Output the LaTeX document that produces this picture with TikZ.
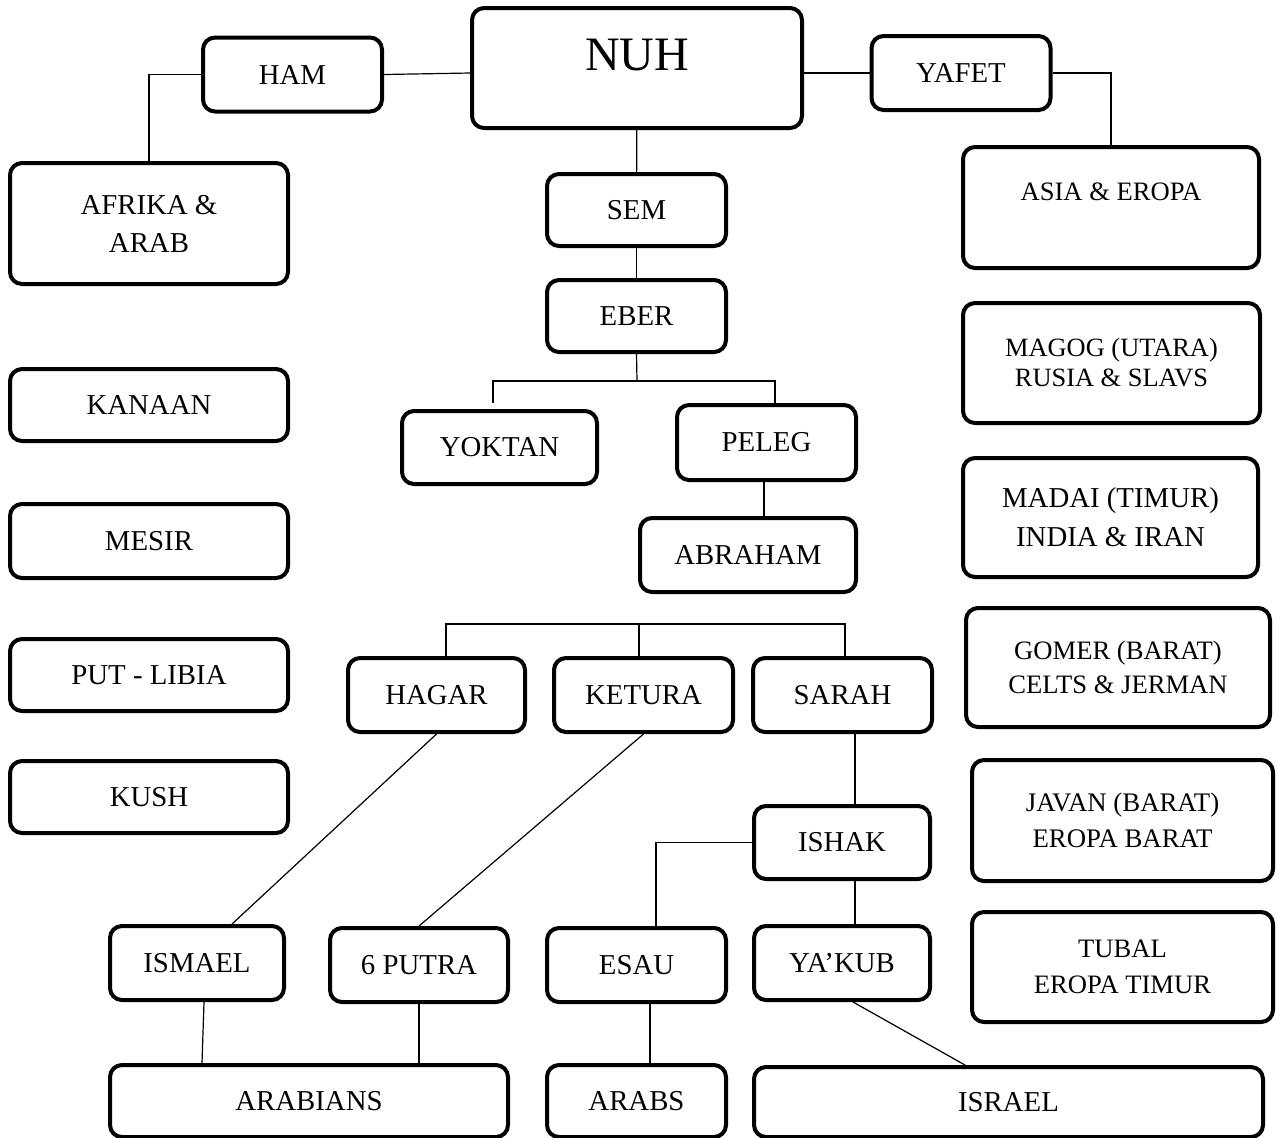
\documentclass[tikz,border=0pt]{standalone}
\usepackage{fontspec}
\setmainfont{Liberation Serif}
\usetikzlibrary{positioning}

\begin{document}
\begin{tikzpicture}[x=0.5pt, y=-0.5pt, line width=0.6pt,
  every node/.style={font=\fontsize{14.4}{19}\selectfont},
  fam/.style={draw, line width=2pt, rounded corners=6pt, align=center, inner sep=0pt, minimum width=89.5pt, minimum height=37pt},
  wide/.style={fam, minimum width=139pt},
  nation/.style={fam, minimum width=150pt, minimum height=60pt, font=\fontsize{13.3}{17}\selectfont}]
  \useasboundingbox (0,0) rectangle (1279,1137);
  % top generation
  \node[fam, minimum width=165pt, minimum height=60pt, text depth=13pt, font=\fontsize{24}{28}\selectfont] (nuh) at (637,68) {NUH};
  \node[fam] (ham) at (292.5,74.5) {HAM};
  \node[fam] (yafet) at (961,73) {YAFET};
  \node[wide, minimum height=60.5pt] (afrika) at (149,223.5) {AFRIKA \&\\ARAB};
  \node[nation, minimum width=148pt, minimum height=60.5pt, text height=8.7pt, text depth=15.5pt] (asia) at (1111,207.5) {ASIA \& EROPA};
  \node[fam, minimum height=36pt] (sem) at (636.5,210) {SEM};
  \node[fam, minimum height=36pt] (eber) at (636.5,316) {EBER};
  % sons of ham
  \node[wide, minimum height=36pt] (kanaan) at (149,405) {KANAAN};
  \node[wide] (mesir) at (149,541) {MESIR};
  \node[wide, minimum height=36pt] (putlibia) at (149,675) {PUT - LIBIA};
  \node[wide, minimum height=36pt] (kush) at (149,797) {KUSH};
  % sons of yafet
  \node[nation, minimum width=148.5pt, font=\fontsize{13.2}{15}\selectfont] (magog) at (1111.5,363) {MAGOG (UTARA)\\RUSIA \& SLAVS};
  \node[nation, minimum width=147.5pt, minimum height=59.5pt, font=\fontsize{14.4}{19.5}\selectfont] (madai) at (1110.5,517.5) {MADAI (TIMUR)\\INDIA \& IRAN};
  \node[nation, minimum width=152pt, minimum height=59.5pt] (gomer) at (1118,667.5) {GOMER (BARAT)\\CELTS \& JERMAN};
  \node[nation, minimum width=150.5pt, minimum height=60.5pt, font=\fontsize{13.4}{18}\selectfont] (javan) at (1122.5,820.5) {JAVAN (BARAT)\\EROPA BARAT};
  \node[nation, minimum width=150.5pt, minimum height=55pt, font=\fontsize{13.3}{18}\selectfont] (tubal) at (1122.5,967) {TUBAL\\EROPA TIMUR};
  % line of sem
  \node[fam, minimum width=97.5pt, minimum height=36.5pt] (yoktan) at (499.5,447.5) {YOKTAN};
  \node[fam, minimum height=37.5pt] (peleg) at (766.5,442.5) {PELEG};
  \node[fam, minimum width=108pt] (abraham) at (748,555) {ABRAHAM};
  \node[fam, minimum width=88.5pt] (hagar) at (436.5,695) {HAGAR};
  \node[fam] (ketura) at (643.5,695) {KETURA};
  \node[fam] (sarah) at (842.5,695) {SARAH};
  \node[fam, minimum width=88pt, minimum height=36.5pt] (ishak) at (842,842.5) {ISHAK};
  \node[fam, minimum width=87pt] (ismael) at (197,963) {ISMAEL};
  \node[fam, minimum width=89pt] (putra) at (419,965) {6 PUTRA};
  \node[fam] (esau) at (636.5,965) {ESAU};
  \node[fam, minimum width=88pt] (yakub) at (842,963) {YA'KUB};
  \node[fam, minimum width=199pt, minimum height=36pt] (arabians) at (309,1101) {ARABIANS};
  \node[fam, minimum height=36pt] (arabs) at (636.5,1101) {ARABS};
  \node[fam, minimum width=254.5pt, minimum height=35pt] (israel) at (1008.5,1102) {ISRAEL};
  \coordinate (eberjoin) at (637,381);
  \coordinate (sonsjoin) at (639,624);
  % connectors
  \draw (ham.west) -| (afrika.north);
  \draw (ham.east) -- ([yshift=-2.5pt]nuh.west);
  \draw ([yshift=-2.5pt]nuh.east) -- (yafet.west);
  \draw (yafet.east) -| (asia.north);
  \draw (nuh) -- (sem);
  \draw (sem) -- (eber);
  \draw (eber.south) -- (eberjoin);
  \draw ([xshift=-3.25pt,yshift=3pt]yoktan.north) |- (eberjoin) -| ([xshift=4.25pt]peleg.north);
  \draw ([xshift=-1.25pt]peleg.south) -- ([xshift=-1.25pt]peleg.south |- abraham.north);
  \draw ([xshift=4.75pt]hagar.north) |- (sonsjoin) -| ([xshift=1.25pt]sarah.north);
  \draw (sonsjoin) -- (sonsjoin |- ketura.north);
  \draw (hagar.south) -- ([xshift=17.5pt]ismael.north);
  \draw (ketura.south) -- (putra.north);
  \draw ([xshift=6.25pt]sarah.south) -- ([xshift=6.25pt]sarah.south |- ishak.north);
  \draw ([xshift=6.5pt]ishak.south) -- ([xshift=6.5pt]ishak.south |- yakub.north);
  \draw (ishak.west) -| ([xshift=9.75pt]esau.north);
  \draw ([xshift=3.5pt]ismael.south) -- ([xshift=2.5pt]ismael.south |- arabians.north);
  \draw (putra.south) -- (putra.south |- arabians.north);
  \draw ([xshift=6.75pt]esau.south) -- ([xshift=6.75pt]esau.south |- arabs.north);
  \draw ([xshift=5.5pt]yakub.south) -- ([xshift=-21.75pt]israel.north);
\end{tikzpicture}
\end{document}
